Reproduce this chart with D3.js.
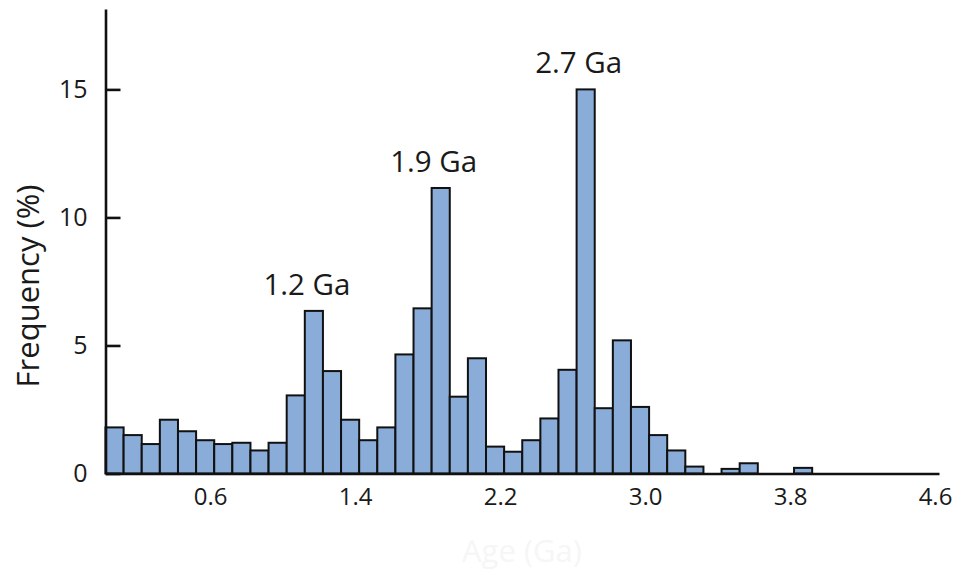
<!DOCTYPE html>
<html>
<head>
<meta charset="utf-8">
<script src="https://cdn.jsdelivr.net/npm/d3@7/dist/d3.min.js"></script>
<style>
  html, body { margin: 0; padding: 0; background: #ffffff; }
  svg { display: block; font-family: "Open Sans", "DejaVu Sans", sans-serif; }
</style>
</head>
<body>
<svg id="chart" width="955" height="571"></svg>
<script>
// Age histogram, 0.1 Ga bins starting at 0.0 Ga
const binStarts = [0.0, 0.1, 0.2, 0.3, 0.4, 0.5, 0.6, 0.7, 0.8, 0.9,
                   1.0, 1.1, 1.2, 1.3, 1.4, 1.5, 1.6, 1.7, 1.8, 1.9,
                   2.0, 2.1, 2.2, 2.3, 2.4, 2.5, 2.6, 2.7, 2.8, 2.9,
                   3.0, 3.1, 3.2, 3.3, 3.4, 3.5, 3.6, 3.7, 3.8];
const frequency = [1.8, 1.5, 1.15, 2.1, 1.65, 1.3, 1.15, 1.2, 0.9, 1.2,
                   3.05, 6.35, 4.0, 2.1, 1.3, 1.8, 4.65, 6.45, 11.15, 3.0,
                   4.5, 1.05, 0.85, 1.3, 2.15, 4.05, 15.0, 2.55, 5.2, 2.6,
                   1.5, 0.9, 0.27, 0, 0.18, 0.4, 0, 0, 0.22];
const binWidth = 0.1;

// Axis ticks
const xTicks = [0.6, 1.4, 2.2, 3.0, 3.8, 4.6];
const yTicks = [0, 5, 10, 15];

// Peak annotations (label value = upper edge of the peak bin)
const peakAges = [1.2, 1.9, 2.7];
const peakLabels = ["1.2 Ga", "1.9 Ga", "2.7 Ga"];

const svg = d3.select("#chart");

const x = d3.scaleLinear().domain([0, 4.6]).range([105.5, 939]);
const y = d3.scaleLinear().domain([0, 18.14]).range([473.5, 9]);

const bins = binStarts.map((s, i) => ({ x0: s, x1: s + binWidth, v: frequency[i] }));

// Bars
svg.append("g")
  .selectAll("rect")
  .data(bins.filter(d => d.v > 0))
  .join("rect")
  .attr("x", d => x(d.x0))
  .attr("y", d => y(d.v))
  .attr("width", d => x(d.x1) - x(d.x0))
  .attr("height", d => y(0) - y(d.v))
  .attr("fill", "#8aacd9")
  .attr("stroke", "#111111")
  .attr("stroke-width", 2);

// Y axis with inward ticks
const yAxis = svg.append("g")
  .attr("transform", `translate(${x.range()[0]},0)`)
  .call(d3.axisLeft(y).tickValues(yTicks).tickSizeInner(-15).tickSizeOuter(0).tickPadding(18));
yAxis.select(".domain").attr("stroke", "#111").attr("stroke-width", 2.6);
yAxis.selectAll(".tick line").attr("stroke", "#111").attr("stroke-width", 2.6);
yAxis.selectAll(".tick text")
  .attr("font-size", 25)
  .attr("fill", "#1a1a1a")
  .attr("font-family", "'Open Sans', sans-serif");

// X axis: baseline and labels, no tick marks
const xAxis = svg.append("g")
  .attr("transform", `translate(0,${y(0)})`)
  .call(d3.axisBottom(x).tickValues(xTicks).tickFormat(d3.format(".1f")).tickSize(0).tickPadding(14));
xAxis.select(".domain").attr("stroke", "#111").attr("stroke-width", 2.6);
xAxis.selectAll(".tick text")
  .attr("dx", -4)
  .attr("font-size", 24)
  .attr("fill", "#1a1a1a")
  .attr("font-family", "'Open Sans', sans-serif");

// Peak labels above the tallest bars
svg.append("g")
  .selectAll("text")
  .data(peakAges)
  .join("text")
  .attr("x", a => x(a - binWidth / 2) - 7)
  .attr("y", a => {
    const b = bins.find(d => Math.abs(d.x1 - a) < 1e-6);
    return y(b.v) - 16;
  })
  .attr("text-anchor", "middle")
  .attr("font-size", 29.5)
  .attr("fill", "#1a1a1a")
  .text((a, i) => peakLabels[i]);

// Axis titles
svg.append("text")
  .attr("transform", "translate(39,286) rotate(-90)")
  .attr("text-anchor", "middle")
  .attr("font-size", 31)
  .attr("fill", "#1a1a1a")
  .text("Frequency (%)");

svg.append("text")
  .attr("x", 522)
  .attr("y", 562)
  .attr("text-anchor", "middle")
  .attr("font-size", 31)
  .attr("fill", "#f6f6f6")
  .text("Age (Ga)");
</script>
</body>
</html>
